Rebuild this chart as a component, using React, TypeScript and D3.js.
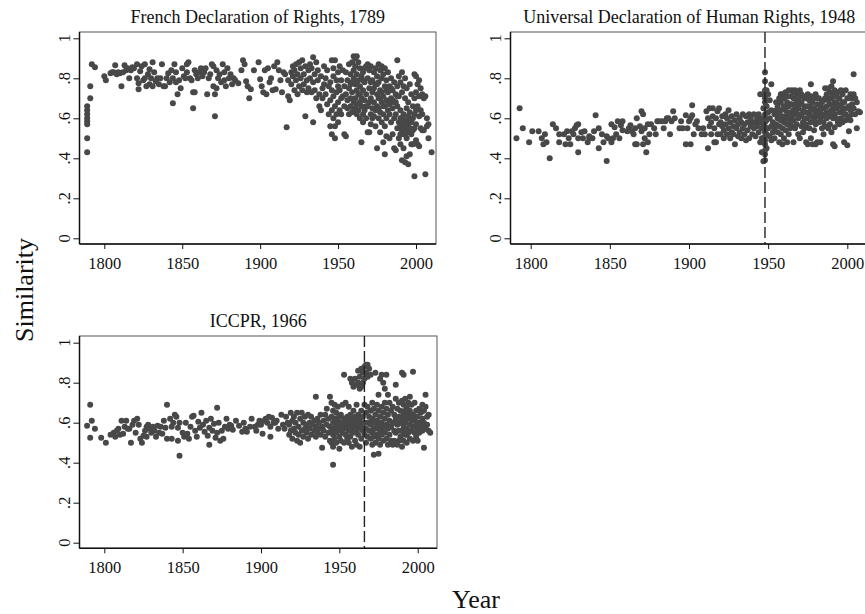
import { useEffect, useRef } from "react";
import * as d3 from "d3";

type Pt = [number, number];

const TITLES = [
  "French Declaration of Rights, 1789",
  "Universal Declaration of Human Rights, 1948",
  "ICCPR, 1966",
];
const MARK_YEARS: (number | null)[] = [null, 1948, 1966];
const YEAR_TICKS = [1800, 1850, 1900, 1950, 2000];
const SIM_TICKS = [0, 0.2, 0.4, 0.6, 0.8, 1];
const SIM_LABELS = ["0", ".2", ".4", ".6", ".8", "1"];

// [year, similarity]
const FRENCH_1789: Pt[] = [
  [1789,.43],[1789,.50],[1789,.57],[1789,.585],[1789,.60],[1789,.62],[1789,.64],[1789,.66],[1791,.70],[1791,.76],[1792,.87],[1794,.855],
  [1800,.81],[1801,.79],[1804,.825],[1805,.83],[1806,.83],[1807,.865],[1808,.82],[1809,.83],[1810,.825],[1811,.76],[1812,.83],[1813,.865],[1814,.84],[1815,.85],[1816,.80],[1817,.84],[1818,.855],[1819,.85],
  [1821,.87],[1821,.80],[1822,.745],[1822,.775],[1823,.835],[1824,.86],[1825,.79],[1826,.87],[1826,.80],[1827,.76],[1828,.82],[1829,.77],[1829,.845],[1830,.80],[1831,.88],[1831,.76],[1832,.83],[1833,.785],[1834,.80],[1835,.77],[1836,.80],[1837,.87],[1838,.76],[1839,.76],[1840,.80],[1841,.825],[1842,.78],[1843,.84],[1844,.675],[1844,.80],[1845,.87],[1846,.83],[1846,.78],[1847,.72],[1848,.79],[1849,.75],
  [1850,.85],[1851,.81],[1852,.80],[1853,.87],[1853,.83],[1854,.88],[1855,.80],[1856,.79],[1857,.65],[1857,.73],[1858,.84],[1858,.73],[1859,.82],[1860,.80],[1861,.83],[1862,.85],[1863,.81],[1864,.83],[1865,.85],[1866,.72],[1867,.80],[1868,.82],[1869,.87],[1870,.86],[1870,.76],[1871,.61],[1871,.72],[1872,.75],[1872,.84],[1873,.80],[1874,.82],[1875,.78],[1876,.87],[1877,.83],[1877,.79],[1878,.76],[1879,.85],[1880,.80],[1881,.82],[1882,.77],[1883,.80],[1884,.79],[1886,.775],[1888,.84],[1889,.89],[1890,.87],[1891,.785],[1892,.76],[1893,.70],[1894,.745],[1896,.84],[1899,.88],
  [1900,.795],[1901,.76],[1902,.73],[1903,.84],[1904,.72],[1905,.85],[1906,.78],[1907,.80],[1908,.74],[1909,.86],[1910,.745],[1911,.88],[1912,.84],[1913,.79],[1914,.73],
  [1915,.83],[1916,.82],[1917,.555],[1918,.79],[1918,.71],[1919,.69],[1920,.83],[1920,.77],[1921,.86],[1921,.81],[1922,.74],[1922,.84],[1923,.87],[1923,.79],[1924,.82],[1924,.72],[1925,.88],[1925,.76],[1926,.85],[1926,.80],[1927,.89],[1927,.74],[1928,.82],[1928,.77],[1929,.61],[1929,.86],[1930,.79],[1930,.73],[1931,.84],[1931,.75],[1932,.87],[1932,.80],[1933,.73],[1933,.85],[1934,.58],[1934,.905],[1934,.78],[1935,.82],[1935,.74],[1936,.88],[1936,.70],[1937,.79],[1937,.84],[1938,.66],[1938,.72],[1939,.81],[1939,.64],[1940,.75],[1940,.70],[1941,.86],[1941,.77],
  [1942,.80],[1942,.72],[1943,.84],[1943,.67],[1944,.76],[1944,.62],[1945,.78],[1945,.56],[1945,.69],[1946,.89],[1946,.74],[1946,.64],[1946,.52],[1947,.85],[1947,.81],[1947,.71],[1947,.60],[1948,.89],[1948,.66],[1948,.50],[1948,.56],[1949,.79],[1949,.62],[1949,.73],[1950,.83],[1950,.68],[1950,.76],[1950,.58],
  [1951,.86],[1951,.64],[1951,.74],[1952,.79],[1952,.70],[1952,.62],[1953,.71],[1953,.84],[1954,.76],[1954,.52],[1954,.66],[1955,.83],[1955,.51],[1955,.72],[1956,.79],[1956,.65],[1956,.69],[1957,.87],[1957,.75],[1957,.62],[1958,.82],[1958,.70],[1958,.66],[1958,.77],[1959,.88],[1959,.78],[1959,.73],[1959,.63],[1960,.91],[1960,.84],[1960,.80],[1960,.68],[1960,.64],
  [1961,.90],[1961,.86],[1961,.77],[1961,.70],[1961,.65],[1962,.91],[1962,.82],[1962,.74],[1962,.67],[1962,.62],[1962,.78],[1963,.88],[1963,.79],[1963,.72],[1963,.64],[1964,.85],[1964,.76],[1964,.68],[1964,.60],[1964,.72],[1965,.81],[1965,.70],[1965,.66],[1965,.48],[1966,.83],[1966,.74],[1966,.62],[1966,.58],[1966,.79],[1967,.78],[1967,.69],[1967,.64],[1967,.85],[1968,.86],[1968,.72],[1968,.60],[1968,.66],[1969,.87],[1969,.80],[1969,.66],[1969,.53],[1970,.84],[1970,.75],[1970,.68],[1970,.53],
  [1971,.86],[1971,.70],[1971,.62],[1971,.57],[1971,.78],[1972,.79],[1972,.73],[1972,.65],[1972,.60],[1973,.83],[1973,.68],[1973,.61],[1973,.75],[1974,.85],[1974,.77],[1974,.64],[1974,.56],[1975,.81],[1975,.72],[1975,.66],[1975,.45],[1975,.77],[1976,.87],[1976,.78],[1976,.70],[1976,.60],[1976,.65],[1977,.84],[1977,.74],[1977,.63],[1977,.53],[1977,.70],[1978,.86],[1978,.80],[1978,.68],[1978,.58],[1978,.73],[1979,.82],[1979,.71],[1979,.62],[1979,.48],[1979,.66],[1980,.85],[1980,.76],[1980,.66],[1980,.42],[1980,.56],
  [1981,.79],[1981,.69],[1981,.60],[1981,.51],[1981,.74],[1982,.83],[1982,.73],[1982,.64],[1982,.68],[1983,.76],[1983,.67],[1983,.50],[1983,.62],[1984,.80],[1984,.70],[1984,.58],[1984,.75],[1985,.74],[1985,.65],[1985,.52],[1985,.69],[1986,.78],[1986,.68],[1986,.60],[1986,.45],[1987,.72],[1987,.62],[1987,.44],[1987,.68],[1988,.89],[1988,.76],[1988,.66],[1988,.55],[1988,.71],[1989,.81],[1989,.71],[1989,.58],[1989,.50],[1990,.78],[1990,.64],[1990,.56],[1990,.47],[1990,.60],[1990,.52],
  [1991,.83],[1991,.73],[1991,.60],[1991,.54],[1991,.39],[1991,.57],[1992,.76],[1992,.62],[1992,.57],[1992,.52],[1992,.45],[1992,.55],[1993,.80],[1993,.70],[1993,.59],[1993,.55],[1993,.38],[1993,.52],[1994,.75],[1994,.65],[1994,.56],[1994,.50],[1994,.41],[1994,.59],[1995,.68],[1995,.61],[1995,.53],[1995,.37],[1995,.57],[1996,.77],[1996,.63],[1996,.55],[1996,.42],[1996,.59],[1997,.72],[1997,.58],[1997,.47],[1997,.52],[1998,.66],[1998,.60],[1998,.47],[1998,.54],[1999,.82],[1999,.70],[1999,.55],[1999,.31],[1999,.62],[2000,.81],[2000,.73],[2000,.64],[2000,.49],[2000,.57],
  [2001,.77],[2001,.66],[2001,.47],[2002,.79],[2002,.71],[2002,.61],[2002,.46],[2003,.75],[2003,.64],[2003,.55],[2004,.72],[2004,.62],[2004,.54],[2005,.70],[2005,.54],[2006,.71],[2006,.32],[2007,.60],[2007,.56],[2008,.57],[2008,.50],[2010,.43],
];

const UDHR_1948: Pt[] = [
  [1791,.50],[1793,.65],[1795,.55],[1799,.48],[1801,.535],[1805,.535],[1807,.50],[1808,.47],[1809,.52],[1810,.48],[1812,.40],[1814,.57],[1816,.55],[1818,.48],[1818,.52],
  [1821,.52],[1822,.47],[1823,.535],[1824,.50],[1825,.47],[1826,.535],[1827,.52],[1828,.55],[1829,.565],[1830,.57],[1830,.50],[1830,.43],[1832,.53],[1833,.50],[1834,.535],[1836,.48],[1837,.50],[1837,.51],[1839,.50],[1840,.535],[1841,.615],
  [1843,.45],[1843,.55],[1845,.52],[1846,.48],[1848,.387],[1848,.51],[1849,.50],[1851,.57],[1851,.48],[1852,.50],[1853,.555],[1854,.52],[1855,.585],[1856,.50],[1857,.565],[1858,.585],[1858,.54],
  [1861,.535],[1862,.55],[1863,.565],[1864,.535],[1865,.52],[1866,.55],[1866,.47],[1867,.47],[1867,.60],[1869,.56],[1870,.635],[1870,.535],[1871,.47],[1871,.62],[1872,.50],[1872,.55],[1873,.43],[1874,.57],[1874,.48],[1875,.52],[1876,.57],
  [1878,.55],[1879,.52],[1880,.585],[1881,.585],[1883,.585],[1884,.55],[1885,.585],[1886,.60],[1887,.60],[1888,.52],[1889,.585],[1890,.635],[1891,.60],
  [1894,.55],[1895,.585],[1896,.55],[1898,.47],[1898,.615],[1899,.55],[1900,.585],[1901,.60],[1901,.47],[1902,.665],[1902,.615],[1903,.52],[1904,.57],[1905,.585],[1906,.55],
  [1908,.52],[1909,.55],[1910,.52],[1911,.635],[1912,.60],[1912,.45],[1913,.65],[1913,.56],[1914,.58],[1914,.52],[1915,.65],[1915,.61],[1916,.55],[1916,.48],[1917,.48],[1917,.60],[1918,.52],[1918,.635],[1919,.57],[1919,.65],
  [1920,.52],[1920,.58],[1921,.56],[1921,.61],[1922,.50],[1922,.54],[1923,.62],[1923,.57],[1924,.52],[1924,.60],[1925,.55],[1925,.64],[1926,.50],[1926,.58],[1927,.53],[1927,.61],[1928,.56],[1928,.52],[1929,.47],[1929,.59],[1930,.55],[1930,.62],[1931,.51],[1931,.57],[1932,.53],[1932,.60],[1933,.58],[1933,.50],[1934,.62],[1934,.55],[1935,.57],[1935,.52],[1936,.61],[1936,.49],[1937,.58],[1937,.54],[1938,.62],[1938,.50],[1939,.56],[1939,.60],[1940,.52],[1940,.58],[1941,.55],[1941,.62],[1942,.58],[1942,.51],[1943,.56],[1943,.60],[1944,.53],[1944,.62],[1945,.72],[1945,.58],[1945,.48],[1946,.55],[1946,.60],[1946,.50],[1946,.43],
  [1947,.72],[1947,.65],[1947,.56],[1947,.48],[1947,.385],[1948,.83],[1948,.785],[1948,.74],[1948,.70],[1948,.68],[1948,.62],[1948,.60],[1948,.58],[1948,.555],[1948,.53],[1948,.51],[1948,.49],[1948,.47],[1948,.44],[1948,.42],[1948,.39],[1949,.74],[1949,.66],[1949,.59],[1949,.52],[1949,.45],
  [1950,.72],[1950,.63],[1950,.55],[1951,.69],[1951,.60],[1951,.51],[1952,.77],[1952,.64],[1952,.56],[1952,.49],[1953,.58],[1953,.53],[1954,.62],[1954,.55],[1954,.50],[1955,.68],[1955,.64],[1955,.57],
  [1956,.66],[1956,.60],[1956,.53],[1957,.70],[1957,.62],[1957,.56],[1957,.48],[1958,.68],[1958,.64],[1958,.59],[1958,.52],[1958,.72],[1959,.72],[1959,.61],[1959,.55],[1959,.47],[1960,.70],[1960,.66],[1960,.58],[1960,.50],[1961,.73],[1961,.64],[1961,.60],[1961,.54],[1962,.68],[1962,.62],[1962,.57],[1962,.48],[1962,.71],[1963,.74],[1963,.66],[1963,.60],[1963,.52],[1964,.71],[1964,.63],[1964,.58],[1964,.55],[1964,.67],[1965,.74],[1965,.67],[1965,.61],[1965,.56],[1966,.70],[1966,.64],[1966,.59],[1966,.48],[1966,.73],[1967,.74],[1967,.66],[1967,.62],[1967,.55],[1968,.72],[1968,.63],[1968,.57],[1968,.68],[1969,.70],[1969,.65],[1969,.60],[1969,.52],[1970,.74],[1970,.67],[1970,.61],[1970,.50],
  [1971,.68],[1971,.62],[1971,.56],[1971,.72],[1972,.71],[1972,.64],[1972,.58],[1972,.53],[1973,.66],[1973,.60],[1973,.55],[1973,.70],[1974,.70],[1974,.63],[1974,.57],[1974,.48],[1975,.72],[1975,.66],[1975,.60],[1975,.47],[1976,.69],[1976,.62],[1976,.55],[1976,.66],[1977,.77],[1977,.71],[1977,.64],[1977,.58],[1977,.50],[1978,.68],[1978,.61],[1978,.47],[1978,.65],[1979,.70],[1979,.65],[1979,.59],[1979,.54],[1980,.72],[1980,.63],[1980,.57],[1980,.47],
  [1981,.67],[1981,.61],[1981,.48],[1981,.70],[1982,.70],[1982,.64],[1982,.58],[1983,.66],[1983,.59],[1983,.48],[1983,.63],[1984,.68],[1984,.61],[1984,.55],[1985,.65],[1985,.58],[1985,.52],[1985,.69],[1986,.75],[1986,.70],[1986,.62],[1986,.56],[1987,.72],[1987,.66],[1987,.60],[1987,.63],[1988,.75],[1988,.69],[1988,.63],[1988,.55],[1989,.73],[1989,.67],[1989,.61],[1989,.57],[1989,.70],[1990,.76],[1990,.70],[1990,.64],[1990,.53],
  [1991,.785],[1991,.72],[1991,.66],[1991,.60],[1991,.47],[1991,.63],[1992,.74],[1992,.68],[1992,.62],[1992,.555],[1992,.46],[1993,.71],[1993,.65],[1993,.60],[1993,.68],[1994,.73],[1994,.67],[1994,.58],[1995,.70],[1995,.63],[1995,.57],[1995,.66],[1996,.74],[1996,.66],[1996,.60],[1997,.72],[1997,.64],[1997,.58],[1997,.68],[1998,.68],[1998,.62],[1998,.48],[1999,.74],[1999,.65],[1999,.59],[1999,.62],[2000,.70],[2000,.61],[2000,.465],
  [2001,.66],[2001,.60],[2001,.535],[2001,.70],[2002,.72],[2002,.64],[2002,.59],[2003,.70],[2003,.67],[2003,.62],[2004,.82],[2004,.72],[2004,.65],[2005,.70],[2005,.62],[2006,.68],[2006,.55],[2007,.635],[2008,.63],
];

const ICCPR_1966: Pt[] = [
  [1789,.585],[1791,.69],[1791,.525],[1792,.61],[1794,.57],[1798,.525],[1801,.50],
  [1804,.54],[1806,.55],[1807,.53],[1808,.56],[1809,.57],[1810,.54],[1811,.61],[1812,.545],[1813,.58],[1814,.61],[1815,.57],[1816,.57],[1817,.50],[1818,.59],
  [1819,.61],[1820,.55],[1821,.62],[1822,.59],[1823,.52],[1824,.50],[1825,.535],[1826,.56],[1827,.58],[1827,.53],
  [1828,.59],[1829,.57],[1830,.55],[1831,.58],[1832,.56],[1833,.53],[1834,.585],[1835,.55],[1836,.58],[1837,.545],[1838,.61],[1839,.575],[1840,.69],[1840,.52],
  [1842,.62],[1843,.58],[1843,.52],[1844,.60],[1845,.64],[1846,.63],[1847,.51],[1847,.575],[1848,.435],[1848,.60],
  [1850,.55],[1851,.53],[1852,.60],[1853,.545],[1854,.52],[1855,.58],[1856,.63],[1857,.635],[1858,.56],[1859,.53],[1860,.605],[1861,.575],[1862,.65],
  [1863,.59],[1864,.555],[1865,.61],[1866,.535],[1867,.49],[1867,.575],[1868,.62],[1869,.56],[1870,.595],[1871,.525],[1872,.675],[1872,.55],[1873,.60],[1874,.51],[1875,.56],[1876,.52],[1877,.58],[1878,.62],[1879,.57],
  [1880,.59],[1881,.585],[1882,.565],[1884,.61],[1886,.585],[1888,.555],[1889,.60],[1890,.57],[1891,.555],[1893,.58],[1894,.62],[1896,.58],[1897,.56],[1898,.59],[1899,.61],
  [1900,.59],[1901,.545],[1902,.61],[1903,.62],[1904,.60],[1905,.63],[1906,.53],[1906,.58],[1907,.625],[1908,.60],[1909,.60],[1910,.61],[1911,.57],[1913,.64],[1914,.59],
  [1915,.57],[1916,.63],[1917,.60],[1918,.54],[1918,.59],[1919,.65],[1919,.56],[1920,.52],[1920,.61],[1921,.57],[1921,.63],[1922,.55],[1922,.60],[1923,.51],[1923,.65],[1924,.58],[1924,.54],[1925,.62],[1925,.50],[1926,.65],[1926,.56],[1927,.60],[1927,.53],[1928,.63],[1928,.57],[1929,.59],[1929,.55],[1930,.64],[1930,.52],[1931,.60],[1931,.57],[1932,.63],[1932,.54],[1933,.59],[1934,.56],[1934,.61],[1935,.73],[1935,.58],[1935,.53],[1936,.62],[1936,.55],[1937,.57],[1937,.60],[1938,.54],[1938,.64],[1939,.475],[1939,.58],[1940,.61],[1940,.56],
  [1941,.64],[1941,.53],[1942,.67],[1942,.59],[1943,.55],[1943,.62],[1944,.73],[1944,.58],[1944,.51],[1945,.70],[1945,.63],[1945,.56],[1945,.50],[1946,.39],[1946,.66],[1946,.60],[1946,.54],[1946,.48],[1946,.57],[1947,.69],[1947,.62],[1947,.57],[1947,.52],[1948,.65],[1948,.59],[1948,.55],[1948,.50],[1948,.62],[1949,.68],[1949,.61],[1949,.56],[1950,.63],[1950,.58],[1950,.53],[1950,.47],[1950,.60],[1951,.64],[1951,.57],[1951,.51],[1952,.69],[1952,.60],[1952,.55],[1952,.58],[1953,.84],[1953,.62],[1953,.57],[1953,.50],[1954,.70],[1954,.60],[1954,.54],[1955,.63],[1955,.58],[1955,.52],[1955,.60],
  [1956,.68],[1956,.61],[1956,.56],[1956,.50],[1957,.82],[1957,.64],[1957,.59],[1957,.53],[1957,.56],[1958,.80],[1958,.62],[1958,.57],[1958,.48],[1959,.78],[1959,.66],[1959,.60],[1959,.55],[1960,.82],[1960,.63],[1960,.58],[1960,.51],[1960,.60],[1961,.79],[1961,.69],[1961,.61],[1961,.56],[1961,.49],[1962,.86],[1962,.80],[1962,.64],[1962,.59],[1962,.54],[1963,.83],[1963,.77],[1963,.62],[1963,.57],[1963,.48],[1963,.60],[1964,.87],[1964,.78],[1964,.66],[1964,.58],[1964,.52],[1965,.85],[1965,.80],[1965,.63],[1965,.56],[1965,.59],[1966,.88],[1966,.82],[1966,.69],[1966,.60],[1966,.54],
  [1967,.89],[1967,.85],[1967,.65],[1967,.57],[1967,.50],[1968,.89],[1968,.83],[1968,.68],[1968,.60],[1968,.53],[1969,.87],[1969,.63],[1969,.56],[1969,.60],[1970,.84],[1970,.66],[1970,.59],[1970,.52],[1971,.70],[1971,.62],[1971,.55],[1971,.49],[1972,.44],[1972,.67],[1972,.60],[1972,.53],[1972,.57],[1973,.85],[1973,.64],[1973,.57],[1973,.50],[1974,.69],[1974,.61],[1974,.54],[1974,.58],[1975,.445],[1975,.74],[1975,.66],[1975,.59],[1975,.52],[1976,.82],[1976,.63],[1976,.56],[1976,.49],[1977,.84],[1977,.68],[1977,.60],[1977,.54],[1977,.57],[1978,.80],[1978,.65],[1978,.58],[1978,.51],[1979,.77],[1979,.70],[1979,.62],[1979,.55],[1979,.58],[1980,.84],[1980,.67],[1980,.59],[1980,.52],
  [1981,.74],[1981,.64],[1981,.57],[1981,.49],[1982,.70],[1982,.61],[1982,.54],[1982,.58],[1983,.66],[1983,.58],[1983,.51],[1984,.68],[1984,.60],[1984,.49],[1985,.64],[1985,.56],[1985,.51],[1985,.60],[1986,.79],[1986,.72],[1986,.62],[1986,.55],[1987,.67],[1987,.59],[1987,.49],[1988,.70],[1988,.63],[1988,.56],[1988,.51],[1988,.60],[1989,.66],[1989,.60],[1989,.53],[1990,.85],[1990,.71],[1990,.62],[1990,.56],[1990,.48],[1991,.84],[1991,.69],[1991,.64],[1991,.58],[1991,.51],[1991,.55],[1992,.72],[1992,.66],[1992,.60],[1992,.54],[1993,.68],[1993,.62],[1993,.57],[1993,.50],[1993,.54],[1994,.70],[1994,.64],[1994,.55],[1995,.73],[1995,.66],[1995,.59],[1995,.52],[1995,.62],
  [1996,.69],[1996,.61],[1996,.56],[1997,.855],[1997,.64],[1997,.58],[1997,.51],[1998,.70],[1998,.62],[1998,.55],[1998,.58],[1999,.66],[1999,.60],[1999,.53],[2000,.63],[2000,.57],[2000,.51],[2001,.67],[2001,.60],[2001,.55],[2001,.58],[2002,.65],[2002,.58],[2003,.69],[2003,.62],[2003,.56],[2003,.59],[2004,.475],[2004,.66],[2004,.60],[2005,.74],[2005,.68],[2005,.57],[2006,.63],[2006,.59],[2007,.64],[2007,.56],[2008,.55],
];

// plot boxes, in page pixels (right panel runs off the edge like the original)
const FRAMES = [
  { left: 79.5, right: 436, top: 32, bottom: 244, x1800: 104.3, x2000: 416, y0: 238.3, y1: 38.3 },
  { left: 510.5, right: 868, top: 32, bottom: 244, x1800: 530.7, x2000: 847.3, y0: 238.3, y1: 38.3 },
  { left: 79.5, right: 437, top: 336, bottom: 548.3, x1800: 104.3, x2000: 417.7, y0: 542.7, y1: 342.7 },
];

const FONT = "'Liberation Serif', 'DejaVu Serif', serif";
const DOT = "#484848";

export default function App() {
  const svgRef = useRef<SVGSVGElement>(null);

  useEffect(() => {
    if (!svgRef.current) return;
    const W = 865;
    const H = 614;
    const svg = d3.select(svgRef.current);
    svg.selectAll("*").remove();
    svg.attr("width", W).attr("height", H);

    svg.append("rect").attr("width", W).attr("height", H).attr("fill", "#fff");

    const SERIES = [FRENCH_1789, UDHR_1948, ICCPR_1966];

    FRAMES.forEach((f, i) => {
      const x = d3.scaleLinear().domain([1800, 2000]).range([f.x1800, f.x2000]);
      const y = d3.scaleLinear().domain([0, 1]).range([f.y0, f.y1]);
      const g = svg.append("g");

      // title
      g.append("text")
        .attr("x", (f.left + f.right) / 2)
        .attr("y", f.top - 9)
        .attr("text-anchor", "middle")
        .attr("font-family", FONT)
        .attr("font-size", 18)
        .attr("fill", "#111")
        .text(TITLES[i]);

      // light outline, then heavier left/bottom axes
      g.append("rect")
        .attr("x", f.left).attr("y", f.top)
        .attr("width", f.right - f.left).attr("height", f.bottom - f.top)
        .attr("fill", "none").attr("stroke", "#555").attr("stroke-width", 1);

      // points
      g.append("g")
        .selectAll("circle")
        .data(SERIES[i])
        .join("circle")
        .attr("cx", (d) => x(d[0]))
        .attr("cy", (d) => y(d[1]))
        .attr("r", 3)
        .attr("fill", DOT);

      // treaty year marker
      const mark = MARK_YEARS[i];
      if (mark != null) {
        g.append("line")
          .attr("x1", x(mark)).attr("x2", x(mark))
          .attr("y1", f.top).attr("y2", f.bottom)
          .attr("stroke", "#222").attr("stroke-width", 1.4)
          .attr("stroke-dasharray", "11,4");
      }

      g.append("line")
        .attr("x1", f.left).attr("x2", f.left).attr("y1", f.top).attr("y2", f.bottom)
        .attr("stroke", "#111").attr("stroke-width", 1.5);
      g.append("line")
        .attr("x1", f.left).attr("x2", f.right).attr("y1", f.bottom).attr("y2", f.bottom)
        .attr("stroke", "#111").attr("stroke-width", 1.5);

      // y axis
      g.append("g")
        .attr("transform", `translate(${f.left},0)`)
        .call(d3.axisLeft(y).tickValues(SIM_TICKS).tickSize(6).tickFormat(() => ""))
        .call((ax) => ax.select(".domain").remove())
        .call((ax) => ax.selectAll("line").attr("stroke", "#111"));

      SIM_TICKS.forEach((t, k) => {
        g.append("text")
          .attr("transform", `translate(${f.left - 15},${y(t)}) rotate(-90)`)
          .attr("dy", "0.35em")
          .attr("text-anchor", "middle")
          .attr("font-family", FONT)
          .attr("font-size", 16.5)
          .attr("fill", "#111")
          .text(SIM_LABELS[k]);
      });

      // x axis
      g.append("g")
        .attr("transform", `translate(0,${f.bottom})`)
        .call(d3.axisBottom(x).tickValues(YEAR_TICKS).tickSize(5).tickFormat((d) => String(d)))
        .call((ax) => ax.select(".domain").remove())
        .call((ax) => ax.selectAll("line").attr("stroke", "#111"))
        .call((ax) =>
          ax.selectAll("text")
            .attr("y", 25).attr("dy", 0)
            .attr("font-family", FONT)
            .attr("font-size", 16.5)
            .attr("fill", "#111")
        );
    });

    // shared axis titles
    svg.append("text")
      .attr("transform", `translate(32.5,290) rotate(-90)`)
      .attr("text-anchor", "middle")
      .attr("font-family", FONT)
      .attr("font-size", 26)
      .attr("fill", "#111")
      .text("Similarity");

    svg.append("text")
      .attr("x", 476).attr("y", 608)
      .attr("text-anchor", "middle")
      .attr("font-family", FONT)
      .attr("font-size", 26)
      .attr("fill", "#111")
      .text("Year");
  }, []);

  return (
    <svg
      ref={svgRef}
      style={{ position: "absolute", left: 0, top: 0, display: "block" }}
    />
  );
}
